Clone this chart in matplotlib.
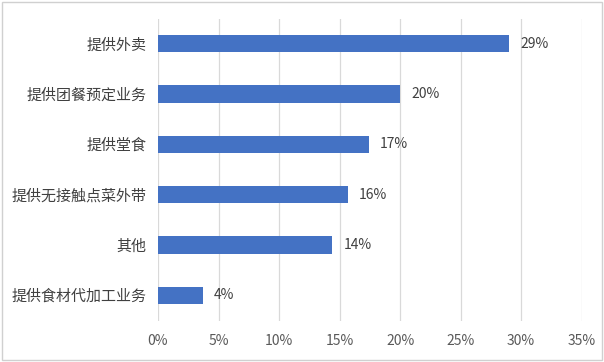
import matplotlib
matplotlib.use("Agg")
import matplotlib.pyplot as plt
from matplotlib.patches import Rectangle

plt.rcParams['font.family'] = ['Noto Sans CJK SC', 'DejaVu Sans']

categories = ["提供外卖", "提供团餐预定业务", "提供堂食", "提供无接触点菜外带", "其他", "提供食材代加工业务"]
values = [29.0, 20.0, 17.4, 15.7, 14.4, 3.7]
value_labels = ["29%", "20%", "17%", "16%", "14%", "4%"]
xticks = [0, 5, 10, 15, 20, 25, 30, 35]
xtick_labels = ["0%", "5%", "10%", "15%", "20%", "25%", "30%", "35%"]

W, H = 604, 362
fig = plt.figure(figsize=(W / 100, H / 100), dpi=100)
ax = fig.add_axes([158 / W, 1 - 320.5 / H, (581.7 - 158) / W, (320.5 - 18.5) / H])

y = list(range(len(categories)))[::-1]
ax.barh(y, values, height=0.34, color="#4472C4", zorder=3)
for yi, v, lab in zip(y, values, value_labels):
    ax.annotate(lab, (v, yi), xytext=(8, 0), textcoords="offset points",
                va="center", ha="left", fontsize=10, color="#404040")

ax.set_xlim(0, 35)
ax.set_ylim(-0.5, len(categories) - 0.5)
ax.set_xticks(xticks)
ax.set_xticklabels(xtick_labels, fontsize=10, color="#595959")
ax.set_yticks(y)
ax.set_yticklabels(categories, fontsize=10.8, color="#404040")
ax.tick_params(axis="both", length=0)
ax.tick_params(axis="y", pad=8)
ax.tick_params(axis="x", pad=10)
ax.grid(axis="x", color="#d9d9d9", linewidth=0.9, zorder=0)
for s in ax.spines.values():
    s.set_visible(False)

fig.patches.append(Rectangle((2 / W, 2 / H), (W - 4) / W, (H - 4) / H,
                             transform=fig.transFigure, fill=False,
                             edgecolor="#d0d0d0", linewidth=1))

fig.savefig("out.png", dpi=100)
